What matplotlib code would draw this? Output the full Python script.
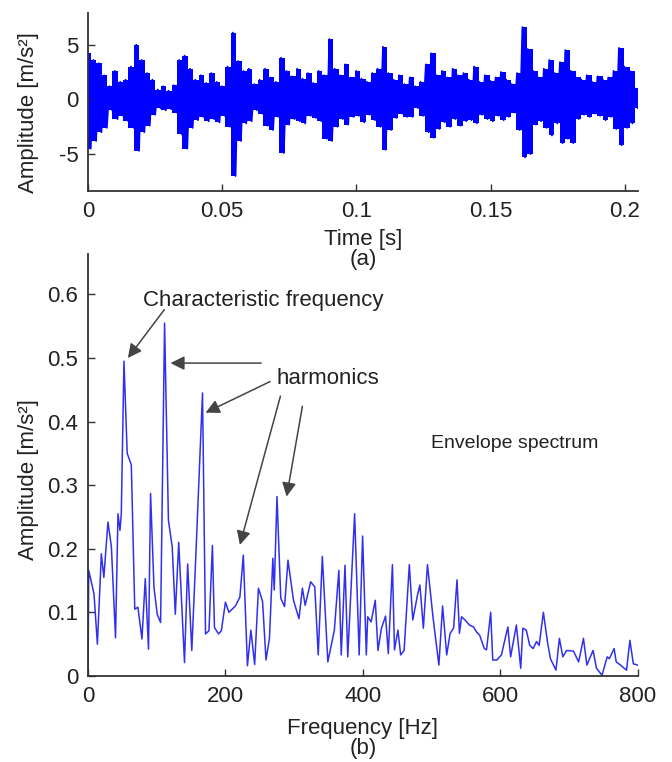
import numpy as np
import matplotlib
matplotlib.use("Agg")
import matplotlib.pyplot as plt

plt.rcParams['font.family'] = ['Liberation Sans', 'DejaVu Sans']
plt.rcParams['axes.unicode_minus'] = False

# (a) vibration signal: upper / lower peak per 2 ms slice
sig_upper = [4.2, 3.6, 3.3, 2.2, 1.2, 2.6, 1.6, 1.8, 3.0, 5.0,
             3.6, 2.4, 1.8, 0.9, 1.2, 0.8, 1.3, 3.6, 4.0, 2.8,
             1.8, 2.2, 1.5, 2.4, 1.6, 1.2, 3.0, 6.1, 3.5, 2.6,
             2.8, 1.4, 1.8, 2.8, 2.0, 1.6, 3.8, 2.6, 2.1, 2.8,
             1.9, 2.4, 1.5, 2.6, 2.2, 5.5, 2.8, 2.2, 3.2, 2.0,
             2.6, 1.9, 1.6, 2.4, 2.8, 4.8, 2.4, 1.8, 2.2, 1.4,
             2.0, 1.2, 1.6, 3.2, 4.2, 2.2, 2.6, 2.0, 2.8, 2.2,
             2.4, 1.8, 3.0, 1.6, 2.2, 1.7, 2.0, 2.5, 1.8, 1.4,
             2.4, 6.6, 4.6, 2.6, 2.0, 2.8, 3.6, 2.4, 3.4, 4.5,
             2.6, 2.0, 1.8, 2.2, 1.6, 2.1, 1.8, 2.0, 2.6, 4.7,
             3.0, 2.6, 1.0]
sig_lower = [-4.5, -3.8, -3.0, -2.6, -1.0, -1.8, -1.5, -2.0, -2.6, -4.7,
             -3.0, -2.4, -1.4, -0.8, -1.0, -0.9, -1.2, -3.2, -4.5, -2.6,
             -1.9, -1.6, -2.0, -1.8, -2.1, -1.5, -2.5, -7.0, -3.8, -2.2,
             -2.0, -1.0, -1.3, -2.4, -2.8, -1.6, -4.9, -2.3, -1.8, -2.0,
             -2.2, -1.5, -1.7, -2.0, -3.6, -3.8, -2.5, -1.8, -2.3, -1.6,
             -1.5, -2.1, -1.4, -1.9, -2.5, -4.6, -2.8, -1.7, -1.3, -1.6,
             -1.6, -0.8, -1.5, -3.0, -3.5, -2.7, -2.1, -2.5, -1.8, -2.4,
             -2.0, -1.9, -2.2, -1.4, -1.8, -2.0, -1.5, -1.9, -1.6, -1.2,
             -2.8, -5.3, -5.0, -2.3, -2.0, -2.6, -3.3, -2.2, -4.0, -3.6,
             -4.0, -1.8, -1.4, -1.6, -1.3, -1.5, -1.9, -1.6, -2.7, -4.2,
             -2.6, -2.2, -0.8]
duration = 0.2048

# (b) envelope spectrum vertices
freq = [0, 1, 8.7, 13.6, 19.4, 23, 29, 34, 40, 43.6, 46.5, 48.4, 52.3, 57, 63,
        68, 72.6, 78.5, 83.3, 88, 91, 96, 100.7, 105.6, 111.4, 117, 122.5, 127,
        132, 140.4, 145, 151, 157, 166.6, 171, 176, 181, 184, 190, 194, 200,
        205, 214.5, 221, 226, 232, 237, 242.5, 248, 254, 259, 264, 269, 271,
        275, 280.5, 286, 291, 299, 307, 312, 316, 324, 330, 335, 341, 349,
        358.5, 365, 368.5, 374, 378, 388, 394.6, 399.6, 405, 407, 412, 418,
        422, 427, 433, 437, 443, 446, 451, 455, 460, 467.6, 472.6, 480, 483,
        488, 494, 502, 510.6, 516, 522, 527, 532, 537, 540.5, 543.6, 548.6,
        555, 561, 565.5, 570, 576.7, 580, 586, 589, 595, 601.6, 611, 615,
        623.4, 629.7, 632.8, 637.8, 642.8, 647.8, 652.7, 656.5, 662.7, 669,
        673, 681, 686, 691, 696.5, 706.5, 714, 721, 726, 735, 740, 748,
        755.6, 758.7, 765.6, 768.7, 775, 783.7, 788.6, 793.6, 800]
amp = [0.0, 0.166, 0.129, 0.05, 0.192, 0.155, 0.242, 0.203, 0.06, 0.255, 0.229,
       0.255, 0.495, 0.35, 0.332, 0.105, 0.108, 0.058, 0.153, 0.042, 0.287,
       0.139, 0.097, 0.084, 0.555, 0.245, 0.203, 0.097, 0.21, 0.021, 0.176,
       0.04, 0.192, 0.445, 0.066, 0.071, 0.205, 0.076, 0.066, 0.071, 0.116,
       0.1, 0.11, 0.124, 0.19, 0.016, 0.072, 0.018, 0.138, 0.117, 0.025,
       0.059, 0.185, 0.135, 0.282, 0.122, 0.109, 0.182, 0.119, 0.09, 0.138,
       0.111, 0.148, 0.14, 0.033, 0.188, 0.022, 0.072, 0.166, 0.033, 0.174,
       0.03, 0.255, 0.033, 0.22, 0.033, 0.093, 0.085, 0.119, 0.04, 0.075,
       0.094, 0.035, 0.175, 0.041, 0.072, 0.033, 0.04, 0.175, 0.088, 0.13,
       0.143, 0.075, 0.175, 0.093, 0.017, 0.11, 0.033, 0.067, 0.075, 0.151,
       0.067, 0.093, 0.088, 0.08, 0.077, 0.069, 0.064, 0.043, 0.041, 0.1,
       0.025, 0.025, 0.033, 0.077, 0.03, 0.08, 0.012, 0.075, 0.072, 0.048,
       0.043, 0.054, 0.048, 0.1, 0.051, 0.027, 0.009, 0.059, 0.03, 0.04,
       0.039, 0.022, 0.059, 0.017, 0.04, 0.012, 0.001, 0.03, 0.027, 0.043,
       0.022, 0.017, 0.009, 0.056, 0.019, 0.017]

sig = np.column_stack([sig_upper, sig_lower]).ravel()
t = np.linspace(0, duration, len(sig))
t_bins = np.linspace(0, duration, len(sig_upper))

fs = 16
txt = '#222222'

fig = plt.figure(figsize=(6.72, 7.62), dpi=100)
ax1 = fig.add_axes([0.131, 0.749, 0.818, 0.234])
ax2 = fig.add_axes([0.131, 0.113, 0.818, 0.554])
ax2.patch.set_visible(False)

for ax in (ax1, ax2):
    ax.spines['top'].set_visible(False)
    ax.spines['right'].set_visible(False)
    for s in ('left', 'bottom'):
        ax.spines[s].set_linewidth(1.3)
        ax.spines[s].set_color('#333333')
    ax.tick_params(direction='in', length=5, width=1, labelsize=fs,
                   colors='#333333', labelcolor=txt, pad=7)

# dense signal: envelope band plus the peak-to-peak trace
ax1.fill_between(t_bins, sig_lower, sig_upper, step='mid', color='#0000ff', lw=0)
ax1.plot(t, sig, color='#0000ff', lw=1.3)
ax1.set_xlim(0, duration)
ax1.set_ylim(-8.4, 7.9)
ax1.set_xticks([0, 0.05, 0.1, 0.15, 0.2])
ax1.set_xticklabels(['0', '0.05', '0.1', '0.15', '0.2'])
ax1.set_yticks([-5, 0, 5])
ax1.set_xlabel('Time [s]\n(a)', fontsize=fs, color=txt, labelpad=5, linespacing=0.95)
ax1.set_ylabel('Amplitude [m/s²]', fontsize=fs, color=txt)
ax1.yaxis.set_label_coords(-0.09, 0.44)

ax2.plot(freq, amp, color='#3030ee', lw=1.1)
ax2.set_xlim(0, 800)
ax2.set_ylim(0, 0.664)
ax2.set_xticks([0, 200, 400, 600, 800])
ax2.set_yticks([0, 0.1, 0.2, 0.3, 0.4, 0.5, 0.6])
ax2.set_yticklabels(['0', '0.1', '0.2', '0.3', '0.4', '0.5', '0.6'])
ax2.set_xlabel('Frequency [Hz]\n(b)', fontsize=fs, color=txt, labelpad=8, linespacing=0.95)
ax2.set_ylabel('Amplitude [m/s²]', fontsize=fs, color=txt)
ax2.yaxis.set_label_coords(-0.09, 0.464)

arrow = dict(arrowstyle='-|>', color='#444444', lw=1.1, mutation_scale=21,
             shrinkA=0, shrinkB=0)
ax2.text(80, 0.59, 'Characteristic frequency', fontsize=fs, color=txt, va='center')
ax2.annotate('', xy=(58, 0.5), xytext=(111, 0.576), arrowprops=arrow)
ax2.text(274, 0.468, 'harmonics', fontsize=fs, color=txt, va='center')
ax2.annotate('', xy=(120, 0.492), xytext=(252, 0.492), arrowprops=arrow)
ax2.annotate('', xy=(171, 0.414), xytext=(265, 0.463), arrowprops=arrow)
ax2.annotate('', xy=(221, 0.206), xytext=(280, 0.44), arrowprops=arrow)
ax2.annotate('', xy=(289, 0.282), xytext=(312, 0.424), arrowprops=arrow)
ax2.text(499, 0.366, 'Envelope spectrum', fontsize=14, color=txt, va='center')

fig.savefig('out.png', dpi=100)
